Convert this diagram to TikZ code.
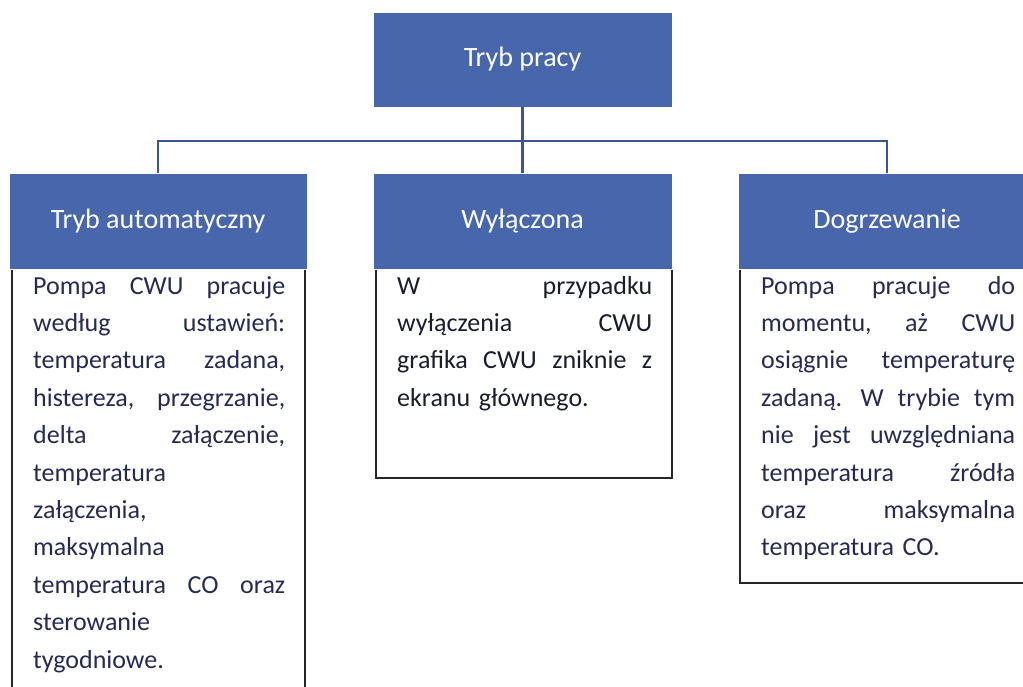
\documentclass[tikz,border=0pt]{standalone}
\usepackage{fontspec}
\setmainfont{Carlito}
\definecolor{hdr}{RGB}{72,102,172}
\definecolor{conn}{RGB}{62,84,146}
\definecolor{txt}{RGB}{38,42,80}
\definecolor{txtb}{RGB}{24,28,44}
\newcommand\jl[1]{\hbox to\hsize{\strut#1}}
\newcommand\lft[1]{\hbox to\hsize{\strut#1\hfil}}
\begin{document}
\begin{tikzpicture}[x=1pt,y=-1pt,
  hdrbox/.style={fill=hdr, draw=white, line width=0.8pt, text=white,
    font=\fontsize{28}{34}\selectfont, inner sep=0pt},
  body/.style={anchor=north west, inner sep=0pt, text=txt,
    font=\fontsize{26}{37.4}\selectfont},
  conline/.style={draw=conn, line width=2.6pt},
  frame/.style={draw=black!85, line width=1.8pt}]
\useasboundingbox (0,0) rectangle (1023,686);
\clip (0,0) rectangle (1023,686);

% text frames (tops hidden behind header boxes)
\draw[frame] (12,260) rectangle (305,720);
\draw[frame] (376,260) rectangle (672,478);
\draw[frame] (740,260) rectangle (1045,583);

% header boxes
\node[hdrbox, minimum width=299pt, minimum height=95pt] (top) at (522.5,59.5) {Tryb pracy};
\node[hdrbox, minimum width=298pt, minimum height=96pt] (auto) at (158,221) {Tryb automatyczny};
\node[hdrbox, minimum width=299pt, minimum height=96pt] (off) at (522.5,221) {Wyłączona};
\node[hdrbox, minimum width=298pt, minimum height=96pt] (dogrz) at (887,221) {Dogrzewanie};

% connectors
\coordinate (bus) at (522.5,141);
\draw[conline] (top.south) -- (bus);
\draw[conline] (auto.north) |- (dogrz.north |- bus) -- (dogrz.north);
\draw[conline] (bus) -- (off.north);

% body texts
\node[body, text width=252pt] (tauto) at (33,267.8) {%
\jl{Pompa \hfill CWU \hfill pracuje}
\jl{według \hfill ustawień:}
\jl{temperatura \hfill zadana,}
\jl{histereza, \hfill przegrzanie,}
\jl{delta \hfill załączenie,}
\lft{temperatura}
\lft{załączenia,}
\lft{maksymalna}
\jl{temperatura \hfill CO \hfill oraz}
\lft{sterowanie}
\lft{tygodniowe.}};

\node[body, text=txtb, text width=255pt] (toff) at (397,267.8) {%
\jl{W \hfill przypadku}
\jl{wyłączenia \hfill CWU}
\jl{grafika \hfill CWU \hfill zniknie \hfill z}
\lft{ekranu głównego.}};

\node[body, text width=254pt] (tdogrz) at (761,267.8) {%
\jl{Pompa \hfill pracuje \hfill do}
\jl{momentu, \hfill aż \hfill CWU}
\jl{osiągnie \hfill temperaturę}
\jl{zadaną. \hfill W \hfill trybie \hfill tym}
\jl{nie \hfill jest \hfill uwzględniana}
\jl{temperatura \hfill źródła}
\jl{oraz \hfill maksymalna}
\lft{temperatura CO.}};
\end{tikzpicture}
\end{document}
